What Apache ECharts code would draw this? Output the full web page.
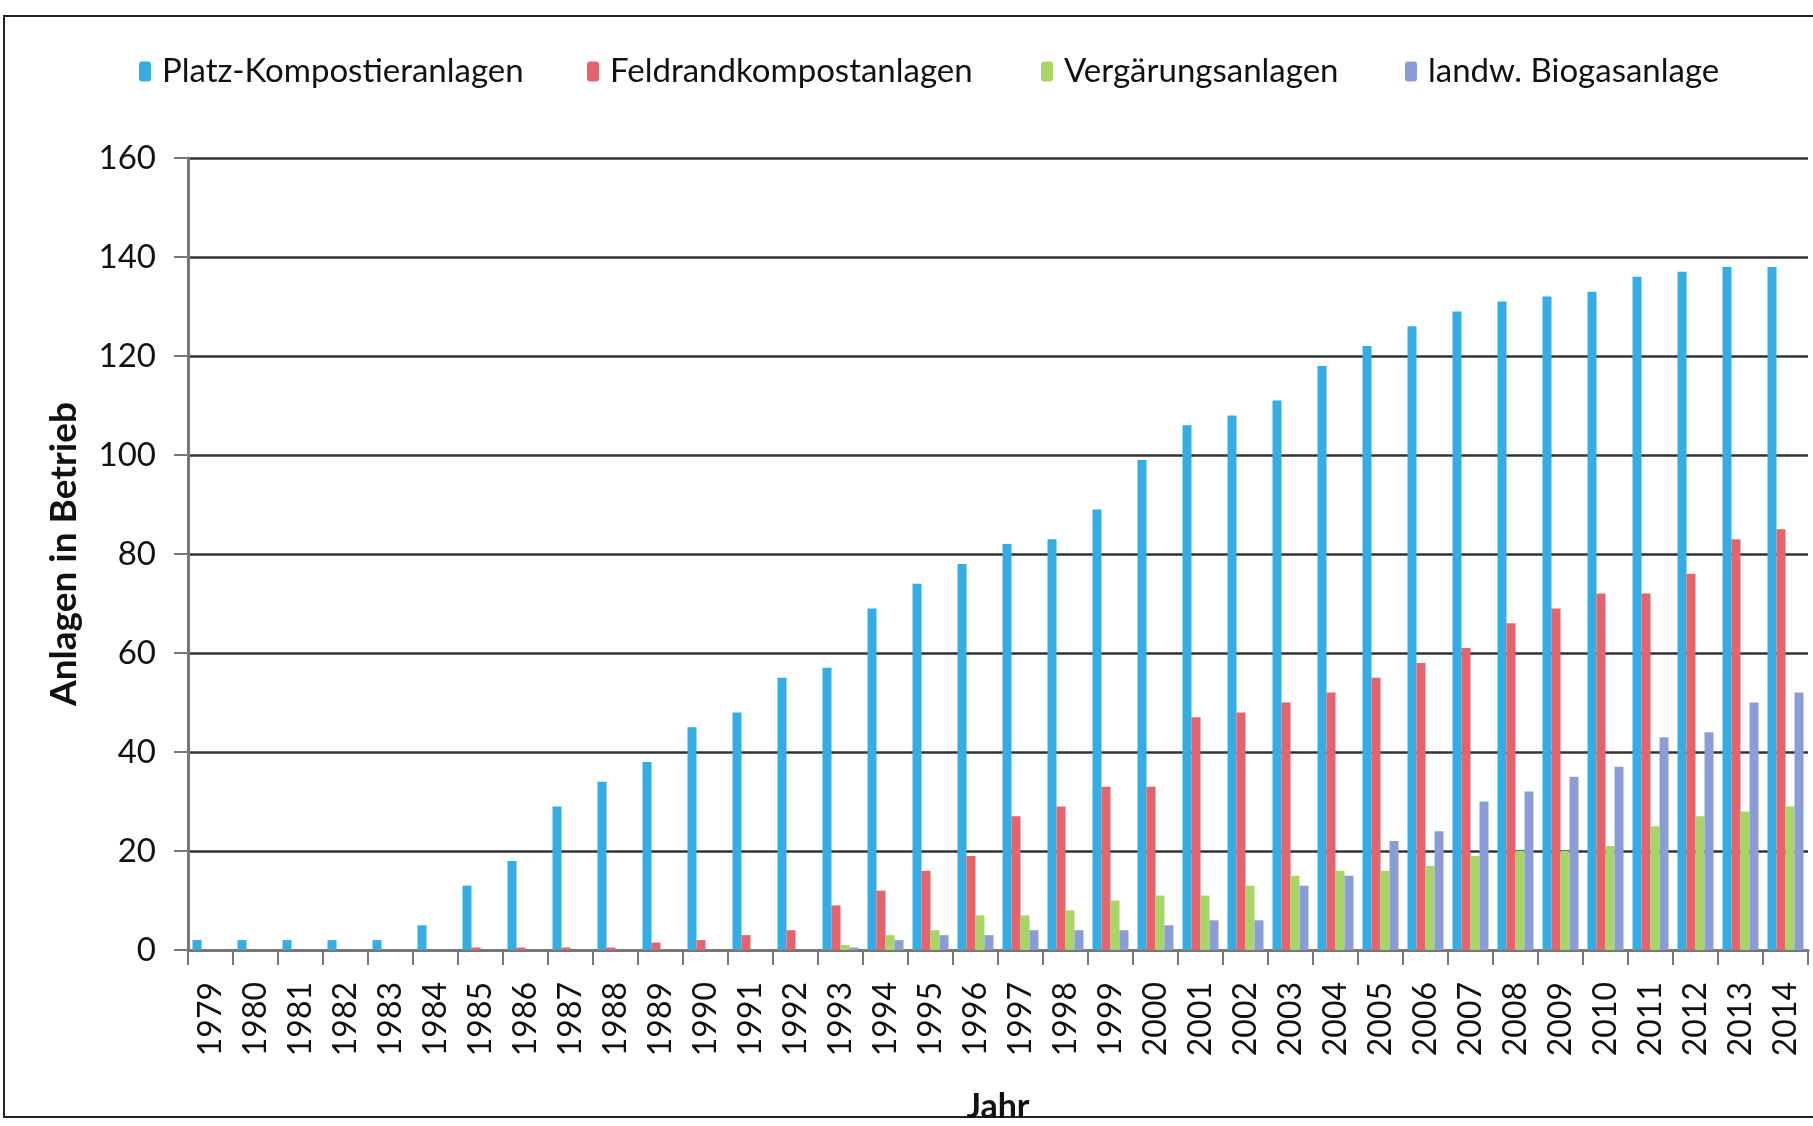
<!DOCTYPE html>
<html><head><meta charset="utf-8">
<script src="https://cdn.jsdelivr.net/npm/echarts@6/dist/echarts.min.js"></script>
<style>html,body{margin:0;padding:0;background:#fff}#c{width:1813px;height:1126px}</style>
</head><body><div id="c"></div>
<script>
const years = ['1979','1980','1981','1982','1983','1984','1985','1986','1987','1988','1989','1990','1991','1992','1993','1994','1995','1996','1997','1998','1999','2000','2001','2002','2003','2004','2005','2006','2007','2008','2009','2010','2011','2012','2013','2014'];
const platz = [2,2,2,2,2,5,13,18,29,34,38,45,48,55,57,69,74,78,82,83,89,99,106,108,111,118,122,126,129,131,132,133,136,137,138,138];
const feldrand = [0,0,0,0,0,0,0.5,0.5,0.5,0.5,1.5,2,3,4,9,12,16,19,27,29,33,33,47,48,50,52,55,58,61,66,69,72,72,76,83,85];
const vergaerung = [0,0,0,0,0,0,0,0,0,0,0,0,0,0,1,3,4,7,7,8,10,11,11,13,15,16,16,17,19,20,20,21,25,27,28,29];
const biogas = [0,0,0,0,0,0,0,0,0,0,0,0,0,0,0.5,2,3,3,4,4,4,5,6,6,13,15,22,24,30,32,35,37,43,44,50,52];
const seriesNames = ['Platz-Kompostieranlagen','Feldrandkompostanlagen','Vergärungsanlagen','landw. Biogasanlage'];
const yTicks = {min:0, max:160, interval:20};

const colors = ['#33ade3','#e5636d','#a8d666','#8b9dd6'];
const font = 'Lato, "Open Sans", sans-serif';
const legendLefts = [134, 582, 1036, 1400];
const chart = echarts.init(document.getElementById('c'));
const data = [platz, feldrand, vergaerung, biogas];
chart.setOption({
  animation:false,
  backgroundColor:'#fff',
  textStyle:{fontFamily:font},
  graphic:[{type:'rect',shape:{x:4,y:16,width:1830,height:1101},style:{fill:'none',stroke:'#222',lineWidth:2},z:-1}],
  legend: seriesNames.map((n,i)=>({
    data:[n], left:legendLefts[i], top:50, itemWidth:12, itemHeight:20, itemGap:8,
    textStyle:{fontSize:33, color:'#111', fontFamily:font, padding:[0,0,0,6]}
  })),
  grid:{left:188, right:5, top:158, bottom:176, containLabel:false, outerBoundsMode:'none'},
  xAxis:{
    type:'category', data:years,
    name:'Jahr', nameLocation:'middle', nameGap:140,
    nameTextStyle:{fontSize:34, fontWeight:'bold', color:'#111', fontFamily:font},
    axisLine:{lineStyle:{color:'#777', width:3}},
    axisTick:{show:true, alignWithLabel:false, length:15, lineStyle:{color:'#777', width:2}},
    axisLabel:{rotate:90, interval:0, fontSize:32, color:'#111', margin:32, fontFamily:font}
  },
  yAxis:{
    type:'value', min:yTicks.min, max:yTicks.max, interval:yTicks.interval,
    name:'Anlagen in Betrieb', nameLocation:'middle', nameGap:105,
    nameTextStyle:{fontSize:37, fontWeight:'bold', color:'#111', fontFamily:font},
    axisLine:{show:true, lineStyle:{color:'#777', width:3}},
    axisTick:{show:true, length:14, lineStyle:{color:'#777', width:2}},
    splitLine:{lineStyle:{color:'#333', width:2.5}},
    axisLabel:{fontSize:33, color:'#111', margin:32, fontFamily:font}
  },
  series: seriesNames.map((n,i)=>({
    name:n, type:'bar', data:data[i], barWidth:9, barGap:'0%',
    itemStyle:{color:colors[i]}
  }))
});
</script></body></html>
